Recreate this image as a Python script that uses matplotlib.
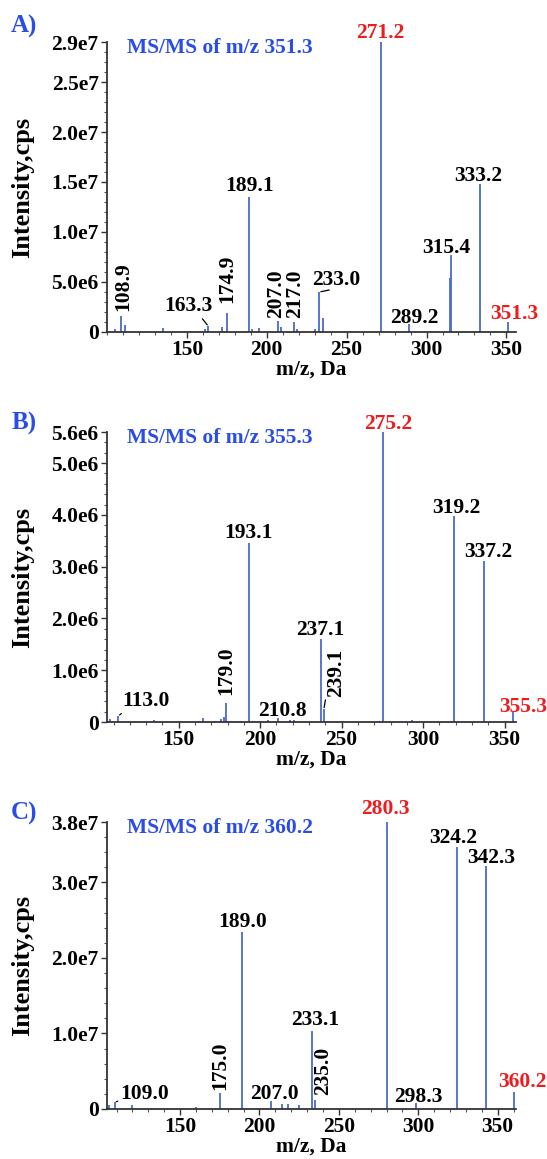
import matplotlib
matplotlib.use("Agg")
import matplotlib.pyplot as plt
from matplotlib.ticker import FixedLocator, MultipleLocator

# === DATA ===
# A) MS/MS of m/z 351.3
mz_a = [105.0, 108.9, 111.0, 135.0, 161.5, 163.3, 172.0, 174.9, 189.1, 191.0, 195.0,
        207.0, 209.0, 217.0, 219.0, 230.0, 233.0, 235.5, 271.2, 289.2, 314.5, 315.4,
        333.2, 351.3]
int_a = [0.3e6, 1.6e6, 0.7e6, 0.4e6, 0.3e6, 0.6e6, 0.5e6, 1.9e6, 1.35e7, 0.3e6, 0.4e6,
         1.1e6, 0.5e6, 1.0e6, 0.3e6, 0.3e6, 4.0e6, 1.4e6, 2.9e7, 0.8e6, 5.4e6, 7.7e6,
         1.48e7, 1.0e6]
labels_a = [108.9, 163.3, 174.9, 189.1, 207.0, 217.0, 233.0, 271.2, 289.2, 315.4, 333.2, 351.3]
yticks_a = [0, 5.0e6, 1.0e7, 1.5e7, 2.0e7, 2.5e7, 2.9e7]
yticklabels_a = ["0", "5.0e6", "1.0e7", "1.5e7", "2.0e7", "2.5e7", "2.9e7"]

# B) MS/MS of m/z 355.3
mz_b = [108.0, 113.0, 135.0, 165.0, 176.0, 177.5, 179.0, 193.1, 205.0, 210.8, 218.0,
        221.0, 237.1, 239.1, 275.2, 293.0, 319.2, 337.2, 355.3]
int_b = [0.5e5, 1.2e5, 0.4e5, 0.7e5, 0.6e5, 1.0e5, 3.7e5, 3.45e6, 0.3e5, 0.8e5, 0.4e5,
         0.4e5, 1.6e6, 2.5e5, 5.6e6, 0.4e5, 3.98e6, 3.1e6, 1.9e5]
labels_b = [113.0, 179.0, 193.1, 210.8, 237.1, 239.1, 275.2, 319.2, 337.2, 355.3]
yticks_b = [0, 1.0e6, 2.0e6, 3.0e6, 4.0e6, 5.0e6, 5.6e6]
yticklabels_b = ["0", "1.0e6", "2.0e6", "3.0e6", "4.0e6", "5.0e6", "5.6e6"]

# C) MS/MS of m/z 360.2
mz_c = [105.5, 109.0, 120.0, 160.0, 175.0, 189.0, 207.0, 214.0, 218.0, 225.0, 233.1,
        235.0, 280.3, 298.3, 324.2, 342.3, 360.2]
int_c = [0.5e6, 0.9e6, 0.57e6, 0.2e6, 2.1e6, 2.34e7, 1.1e6, 0.65e6, 0.7e6, 0.55e6, 1.03e7,
         1.2e6, 3.8e7, 0.8e6, 3.47e7, 3.22e7, 2.3e6]
labels_c = [109.0, 175.0, 189.0, 207.0, 233.1, 235.0, 280.3, 298.3, 324.2, 342.3, 360.2]
yticks_c = [0, 1.0e7, 2.0e7, 3.0e7, 3.8e7]
yticklabels_c = ["0", "1.0e7", "2.0e7", "3.0e7", "3.8e7"]

xticks = [150, 200, 250, 300, 350]

# === STYLE ===
FONT = "Liberation Serif"
PEAK_COLOR = "#4a6cc8"
TITLE_BLUE = "#2a4de8"
RED = "#ee1c1c"
FS = 15.5

# label placement: m/z -> (dx px, dy px, rotation, leader start on text box or None)
place_a = {108.9: (2, 5, 90, None), 163.3: (-20, 15, 0, (0.75, 0)), 174.9: (1, 10, 90, None),
           189.1: (0, 6, 0, None), 207.0: (-2, 3, 90, None), 217.0: (1, 4, 90, None),
           233.0: (17, 7, 0, (0.35, 0)), 271.2: (0, 4, 0, None), 289.2: (5, 1, 0, None),
           315.4: (-5, 2, 0, None), 333.2: (-1, 3, 0, None), 351.3: (6, 3, 0, None)}
place_b = {113.0: (28, 10, 0, (0.05, 0)), 179.0: (0, 8, 90, None), 193.1: (0, 5, 0, None),
           210.8: (5, 2, 0, None), 237.1: (0, 4, 0, None), 239.1: (12, 12, 90, (0, 0)),
           275.2: (5, 3, 0, None), 319.2: (2, 3, 0, None), 337.2: (5, 4, 0, None),
           355.3: (10, 0, 0, None)}
place_c = {109.0: (30, 3, 0, (0, 0.2)), 175.0: (0, 3, 90, None), 189.0: (1, 5, 0, None),
           207.0: (4, 2, 0, None), 233.1: (3, 6, 0, None), 235.0: (8, 5, 90, None),
           280.3: (-2, 8, 0, None), 298.3: (3, 1, 0, None), 324.2: (-4, 4, 0, None),
           342.3: (6, 3, 0, None), 360.2: (8, 5, 0, None)}


def draw_panel(ax, mz, inten, labels, place, yticks, yticklabels, xlim, minor_y, title, precursor):
    ax.vlines(mz, 0, inten, color=PEAK_COLOR, lw=1.3)
    ax.set_xlim(*xlim)
    ax.set_ylim(0, yticks[-1])

    base = mz[inten.index(max(inten))]
    for m in labels:
        dx, dy, rot, leader = place[m]
        color = RED if m in (base, precursor) else "black"
        y = inten[mz.index(m)]
        kw = dict(xy=(m, y), xytext=(dx, dy), textcoords="offset pixels",
                  fontsize=FS, fontweight="bold", family=FONT, color=color,
                  rotation=rot, ha="center", va="bottom" if rot else "baseline")
        if leader:
            kw["arrowprops"] = dict(arrowstyle="-", color="black", lw=0.9, relpos=leader,
                                    shrinkA=0, shrinkB=1)
        ax.annotate(f"{m:.1f}", **kw)

    ax.text(0.05, 0.98, title, transform=ax.transAxes, ha="left", va="center",
            fontsize=FS, fontweight="bold", family=FONT, color=TITLE_BLUE)

    for s in ("top", "right"):
        ax.spines[s].set_visible(False)
    for s in ("left", "bottom"):
        ax.spines[s].set_linewidth(1.3)
        ax.spines[s].set_color("#333333")

    ax.yaxis.set_major_locator(FixedLocator(yticks))
    ax.set_yticklabels(yticklabels)
    ax.yaxis.set_minor_locator(MultipleLocator(minor_y))
    ax.xaxis.set_major_locator(FixedLocator(xticks))
    ax.xaxis.set_minor_locator(MultipleLocator(10))
    ax.tick_params(which="major", length=4, width=1, pad=2, labelsize=FS, color="#333333")
    ax.tick_params(which="minor", length=2, width=0.8, color="#555555")
    for lab in ax.get_xticklabels() + ax.get_yticklabels():
        lab.set_family(FONT)
        lab.set_fontweight("bold")

    h_px = ax.get_position().height * H
    ax.set_xlabel("m/z, Da", fontsize=FS, fontweight="bold", family=FONT)
    ax.xaxis.label.set_verticalalignment("center")
    ax.xaxis.set_label_coords(0.5, -38 / h_px)
    ax.set_ylabel("Intensity,cps", fontsize=19, fontweight="bold", family=FONT)
    ax.yaxis.set_label_coords(-0.178, 0.5)


W, H = 547, 1159
fig = plt.figure(figsize=(W / 100, H / 100), dpi=100)


def axes_px(left, top, right, bottom):
    return fig.add_axes([left / W, 1 - bottom / H, (right - left) / W, (bottom - top) / H])


ax_a = axes_px(107, 42, 516, 332)
ax_b = axes_px(107, 432, 516, 722)
ax_c = axes_px(107, 822, 516, 1109)

draw_panel(ax_a, mz_a, int_a, labels_a, place_a, yticks_a, yticklabels_a, (100, 356), 1e6,
           "MS/MS of m/z 351.3", 351.3)
draw_panel(ax_b, mz_b, int_b, labels_b, place_b, yticks_b, yticklabels_b, (106, 357), 2e5,
           "MS/MS of m/z 355.3", 355.3)
draw_panel(ax_c, mz_c, int_c, labels_c, place_c, yticks_c, yticklabels_c, (104, 361.5), 2e6,
           "MS/MS of m/z 360.2", 360.2)

for txt, ypx in (("A)", 26), ("B)", 423), ("C)", 813)):
    fig.text(24 / W, 1 - ypx / H, txt, ha="center", va="center", fontsize=18,
             fontweight="bold", family=FONT, color=TITLE_BLUE)

fig.savefig("out.png", dpi=100)
